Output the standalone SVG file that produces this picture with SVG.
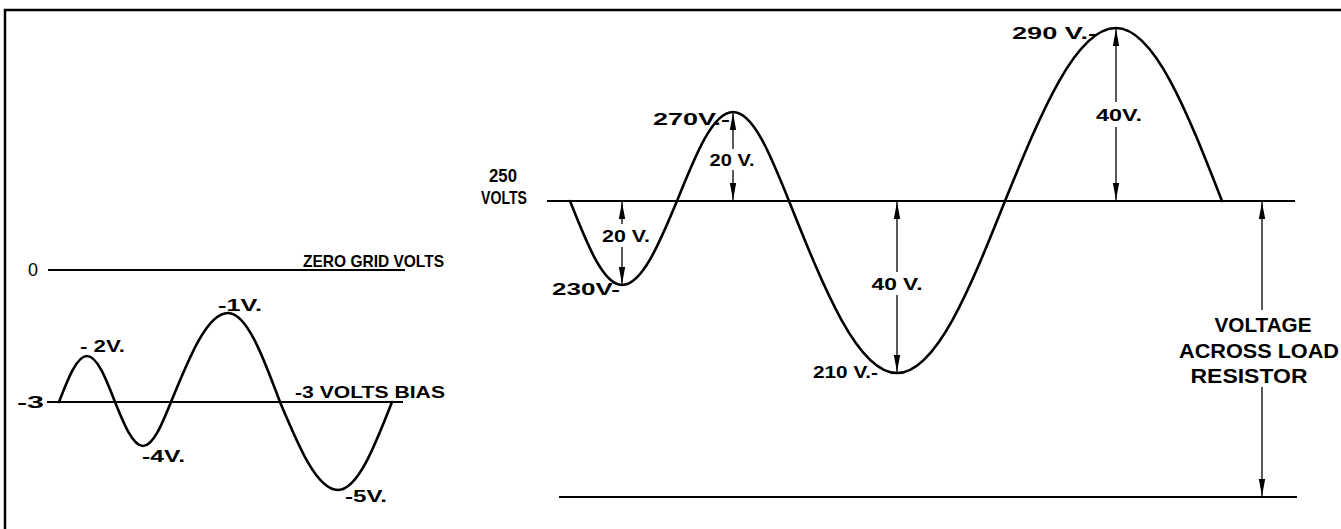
<svg xmlns="http://www.w3.org/2000/svg" width="1341" height="529" viewBox="0 0 1341 529">
<defs>
<style>
.frame{fill:none;stroke:#000;stroke-width:2.5}
.axis{fill:none;stroke:#000;stroke-width:2}
.wave{fill:none;stroke:#000;stroke-width:2.6;stroke-linecap:round;stroke-linejoin:round}
.dim{fill:none;stroke:#000;stroke-width:1.3}
.arr{marker-start:url(#ah)}
text{font-family:"Liberation Sans",Arial,sans-serif;font-weight:bold;font-size:17px;fill:#000}
.big{font-size:20px}
.mid{text-anchor:middle}
</style>
<marker id="ah" viewBox="-18 -4 20 8" refX="0" refY="0" markerWidth="20" markerHeight="8" markerUnits="userSpaceOnUse" orient="auto-start-reverse">
<path d="M0,0 L-17,-3.2 L-17,3.2 Z" fill="#000"/>
</marker>
</defs>
<rect width="1341" height="529" fill="#fff"/>
<path class="frame" d="M5,529 L5,10 L1341,10"/>

<g id="left-grid">
<line class="axis" x1="48" y1="270" x2="405" y2="270"/>
<line class="axis" x1="47" y1="402" x2="403" y2="402"/>
<text x="28" y="276" style="font-size:18px;font-weight:normal">0</text>
<text x="303" y="267" textLength="141" lengthAdjust="spacingAndGlyphs">ZERO GRID VOLTS</text>
<text x="17" y="408" textLength="27" lengthAdjust="spacingAndGlyphs">-3</text>
<text x="295" y="398" textLength="150" lengthAdjust="spacingAndGlyphs">-3 VOLTS BIAS</text>
</g>

<g id="grid-wave">
<path class="wave" d="M59,402 C68.1,378.4 76.9,356 87,356 C97.1,356 105.9,378.4 115,402 C124.1,424.5 132.9,446 143,446 C153.1,446 161.9,424.5 171,402 C189.6,356.4 207.4,313 228,313 C246.8,313 263,356.4 280,402 C298.9,447.1 317,490 338,490 C357.5,490 374.4,447.1 392,402"/>
<text x="80" y="352" textLength="45" lengthAdjust="spacingAndGlyphs">- 2V.</text>
<text x="218" y="311" textLength="44" lengthAdjust="spacingAndGlyphs">-1V.</text>
<text x="142" y="462" textLength="43" lengthAdjust="spacingAndGlyphs">-4V.</text>
<text x="345" y="502" textLength="42" lengthAdjust="spacingAndGlyphs">-5V.</text>
</g>

<g id="plate-grid">
<line class="axis" x1="547" y1="201" x2="1295" y2="201"/>
<line class="axis" x1="559" y1="497" x2="1297" y2="497"/>
<text class="mid" x="503" y="182" style="font-size:18px" textLength="28" lengthAdjust="spacingAndGlyphs">250</text>
<text class="mid" x="504" y="204" style="font-size:18px" textLength="46" lengthAdjust="spacingAndGlyphs">VOLTS</text>
</g>

<g id="plate-wave">
<path class="wave" d="M570,201 C587,244 603.2,285 622,285 C641.9,285 659.1,244 677,201 C695.3,155.4 712.7,112 733,112 C753.3,112 770.7,155.4 789,201 C824.2,289.1 857.9,373 897,373 C936.1,373 969.8,289.1 1005,201 C1041.2,112.4 1075.8,28 1116,28 C1154.4,28 1187.4,112.4 1222,201"/>
<text x="552" y="295" textLength="68" lengthAdjust="spacingAndGlyphs">230V-</text>
<text x="653" y="125" textLength="77" lengthAdjust="spacingAndGlyphs">270V.-</text>
<text x="813" y="378" textLength="65" lengthAdjust="spacingAndGlyphs">210 V.-</text>
<text x="1012" y="39" textLength="85" lengthAdjust="spacingAndGlyphs">290 V.-</text>
</g>

<g id="dimensions">
<line class="dim arr" x1="622" y1="202" x2="622" y2="224"/>
<line class="dim arr" x1="622" y1="284" x2="622" y2="247"/>
<text class="mid" x="626" y="242" textLength="48" lengthAdjust="spacingAndGlyphs">20 V.</text>

<line class="dim arr" x1="733" y1="113" x2="733" y2="149"/>
<line class="dim arr" x1="733" y1="200" x2="733" y2="170"/>
<text class="mid" x="732" y="166" textLength="45" lengthAdjust="spacingAndGlyphs">20 V.</text>

<line class="dim arr" x1="897" y1="202" x2="897" y2="272"/>
<line class="dim arr" x1="897" y1="372" x2="897" y2="295"/>
<text class="mid" x="897" y="290" textLength="51" lengthAdjust="spacingAndGlyphs">40 V.</text>

<line class="dim arr" x1="1116" y1="29" x2="1116" y2="102"/>
<line class="dim arr" x1="1116" y1="200" x2="1116" y2="127"/>
<text class="mid" x="1119" y="121" textLength="46" lengthAdjust="spacingAndGlyphs">40V.</text>

<line class="dim arr" x1="1262" y1="202" x2="1262" y2="310"/>
<line class="dim arr" x1="1262" y1="496" x2="1262" y2="387"/>
<text class="mid big" x="1263" y="332" textLength="97" lengthAdjust="spacingAndGlyphs">VOLTAGE</text>
<text class="mid big" x="1259" y="358" textLength="160" lengthAdjust="spacingAndGlyphs">ACROSS LOAD</text>
<text class="mid big" x="1249" y="383" textLength="117" lengthAdjust="spacingAndGlyphs">RESISTOR</text>
</g>
</svg>
